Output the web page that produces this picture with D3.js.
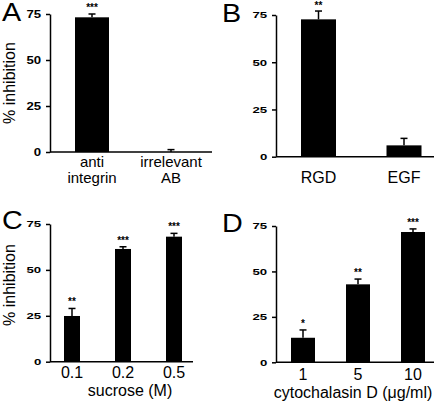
<!DOCTYPE html>
<html>
<head>
<meta charset="utf-8">
<script src="https://cdn.jsdelivr.net/npm/d3@7"></script>
<style>
  html, body { margin: 0; padding: 0; background: #fff; }
  svg { display: block; }
  text { font-family: "Liberation Sans", Arial, Helvetica, sans-serif; fill: #000; }
</style>
</head>
<body>
<svg id="chart" width="442" height="403"></svg>
<script>
// ---- data ----
const yTicks = [0, 25, 50, 75];
const yMax = 75;

const catsA = ["anti integrin", "irrelevant AB"];
const labelsA = [["anti", "integrin"], ["irrelevant", "AB"]];
const valuesA = [73.2, 0];
const errA = [1.8, 1.3];
const sigA = ["***", ""];

const catsB = ["RGD", "EGF"];
const valuesB = [72.7, 6.0];
const errB = [4.4, 3.7];
const sigB = ["**", ""];

const catsC = ["0.1", "0.2", "0.5"];
const valuesC = [24.9, 61.4, 68.1];
const errC = [4.1, 1.2, 1.8];
const sigC = ["**", "***", "***"];
const titleC = "sucrose (M)";

const catsD = ["1", "5", "10"];
const valuesD = [13.5, 42.9, 71.7];
const errD = [4.3, 2.9, 1.7];
const sigD = ["*", "**", "***"];
const titleD = "cytochalasin D (\u03BCg/ml)";

const yLabel = "% inhibition";

// ---- layout ----
const svg = d3.select("#chart");

const panels = [
  { letter: "A", lx: 2, ly: 21, cats: catsA, labels: labelsA, values: valuesA, err: errA, sig: sigA,
    axisX: 50, axisEnd: 212, yTop: 14, yBot: 152, c0: 92, c1: 171, barW: 34,
    tickFont: 12, tickSY: 0.95, ylab: true, ylabY: 83, labY: 167, labFont: 15, labGap: 16, title: null },
  { letter: "B", lx: 222, ly: 22, cats: catsB, labels: catsB.map(d => [d]), values: valuesB, err: errB, sig: sigB,
    axisX: 276, axisEnd: 434, yTop: 15, yBot: 156.7, c0: 318.5, c1: 404, barW: 35,
    tickFont: 12, tickSY: 0.72, ylab: false, labY: 183, labFont: 16, labGap: 16, title: null },
  { letter: "C", lx: 2, ly: 229, cats: catsC, labels: catsC.map(d => [d]), values: valuesC, err: errC, sig: sigC,
    axisX: 50, axisEnd: 193, yTop: 224, yBot: 361.7, c0: 72, c1: 174, barW: 16,
    tickFont: 12, tickSY: 0.72, ylab: true, ylabY: 285, labY: 378, labFont: 16, labGap: 16, title: titleC, titleX: 130, titleY: 396 },
  { letter: "D", lx: 222, ly: 232, cats: catsD, labels: catsD.map(d => [d]), values: valuesD, err: errD, sig: sigD,
    axisX: 276, axisEnd: 434, yTop: 226, yBot: 362.3, c0: 303, c1: 413, barW: 24,
    tickFont: 12, tickSY: 0.72, ylab: false, labY: 380, labFont: 16, labGap: 16, title: titleD, titleX: 353, titleY: 398 }
];

panels.forEach(p => {
  const g = svg.append("g");
  const y = d3.scaleLinear().domain([0, yMax]).range([p.yBot, p.yTop]);
  const x = d3.scalePoint().domain(p.cats).range([p.c0, p.c1]);

  // panel letter
  g.append("text").attr("x", p.lx).attr("y", p.ly)
    .attr("font-size", 25).attr("transform", `translate(${p.lx},0) scale(1.15,1) translate(${-p.lx},0)`)
    .text(p.letter);

  // bars
  g.selectAll("rect.bar").data(p.cats).join("rect")
    .attr("class", "bar")
    .attr("x", (d) => x(d) - p.barW / 2)
    .attr("width", p.barW)
    .attr("y", (d, i) => y(p.values[i]))
    .attr("height", (d, i) => y(0) - y(p.values[i]))
    .attr("fill", "#000");

  // error bars (upper only)
  const eb = g.selectAll("g.eb").data(p.cats).join("g").attr("class", "eb");
  eb.append("line")
    .attr("x1", d => x(d)).attr("x2", d => x(d))
    .attr("y1", (d, i) => y(p.values[i]))
    .attr("y2", (d, i) => y(p.values[i] + p.err[i]))
    .attr("stroke", "#000").attr("stroke-width", 1.5);
  eb.append("line")
    .attr("x1", d => x(d) - 3.5).attr("x2", d => x(d) + 3.5)
    .attr("y1", (d, i) => y(p.values[i] + p.err[i]))
    .attr("y2", (d, i) => y(p.values[i] + p.err[i]))
    .attr("stroke", "#000").attr("stroke-width", 1.5);

  // significance stars
  g.selectAll("text.sig").data(p.cats).join("text")
    .attr("class", "sig")
    .attr("x", d => x(d))
    .attr("y", (d, i) => Math.max(9, y(p.values[i] + p.err[i]) - 3))
    .attr("text-anchor", "middle")
    .attr("font-size", 10).attr("font-weight", "bold")
    .text((d, i) => p.sig[i]);

  // y axis
  const ax = g.append("g").attr("transform", `translate(${p.axisX},0)`)
    .call(d3.axisLeft(y).tickValues(yTicks).tickSize(4).tickSizeOuter(0).tickPadding(4));
  ax.select(".domain").attr("stroke", "#000").attr("stroke-width", 1.5);
  ax.selectAll(".tick line").attr("stroke", "#000").attr("stroke-width", 1.5);
  ax.selectAll(".tick text")
    .attr("font-size", p.tickFont).attr("font-weight", "bold")
    .attr("font-family", "Liberation Sans, Arial, sans-serif")
    .attr("fill", "#000")
    .attr("transform", `scale(1.1,${p.tickSY})`);

  // x axis baseline
  g.append("line")
    .attr("x1", p.axisX).attr("x2", p.axisEnd)
    .attr("y1", y(0)).attr("y2", y(0))
    .attr("stroke", "#000").attr("stroke-width", 1.5);

  // category labels
  p.cats.forEach((c, i) => {
    p.labels[i].forEach((line, j) => {
      g.append("text")
        .attr("x", x(c)).attr("y", p.labY + j * p.labGap)
        .attr("text-anchor", "middle").attr("font-size", p.labFont)
        .text(line);
    });
  });

  // axis title
  if (p.title) {
    g.append("text").attr("x", p.titleX).attr("y", p.titleY)
      .attr("text-anchor", "middle").attr("font-size", 16)
      .text(p.title);
  }

  // y label
  if (p.ylab) {
    g.append("text")
      .attr("transform", `translate(15,${p.ylabY}) rotate(-90)`)
      .attr("text-anchor", "middle").attr("font-size", 16)
      .text(yLabel);
  }
});
</script>
</body>
</html>
